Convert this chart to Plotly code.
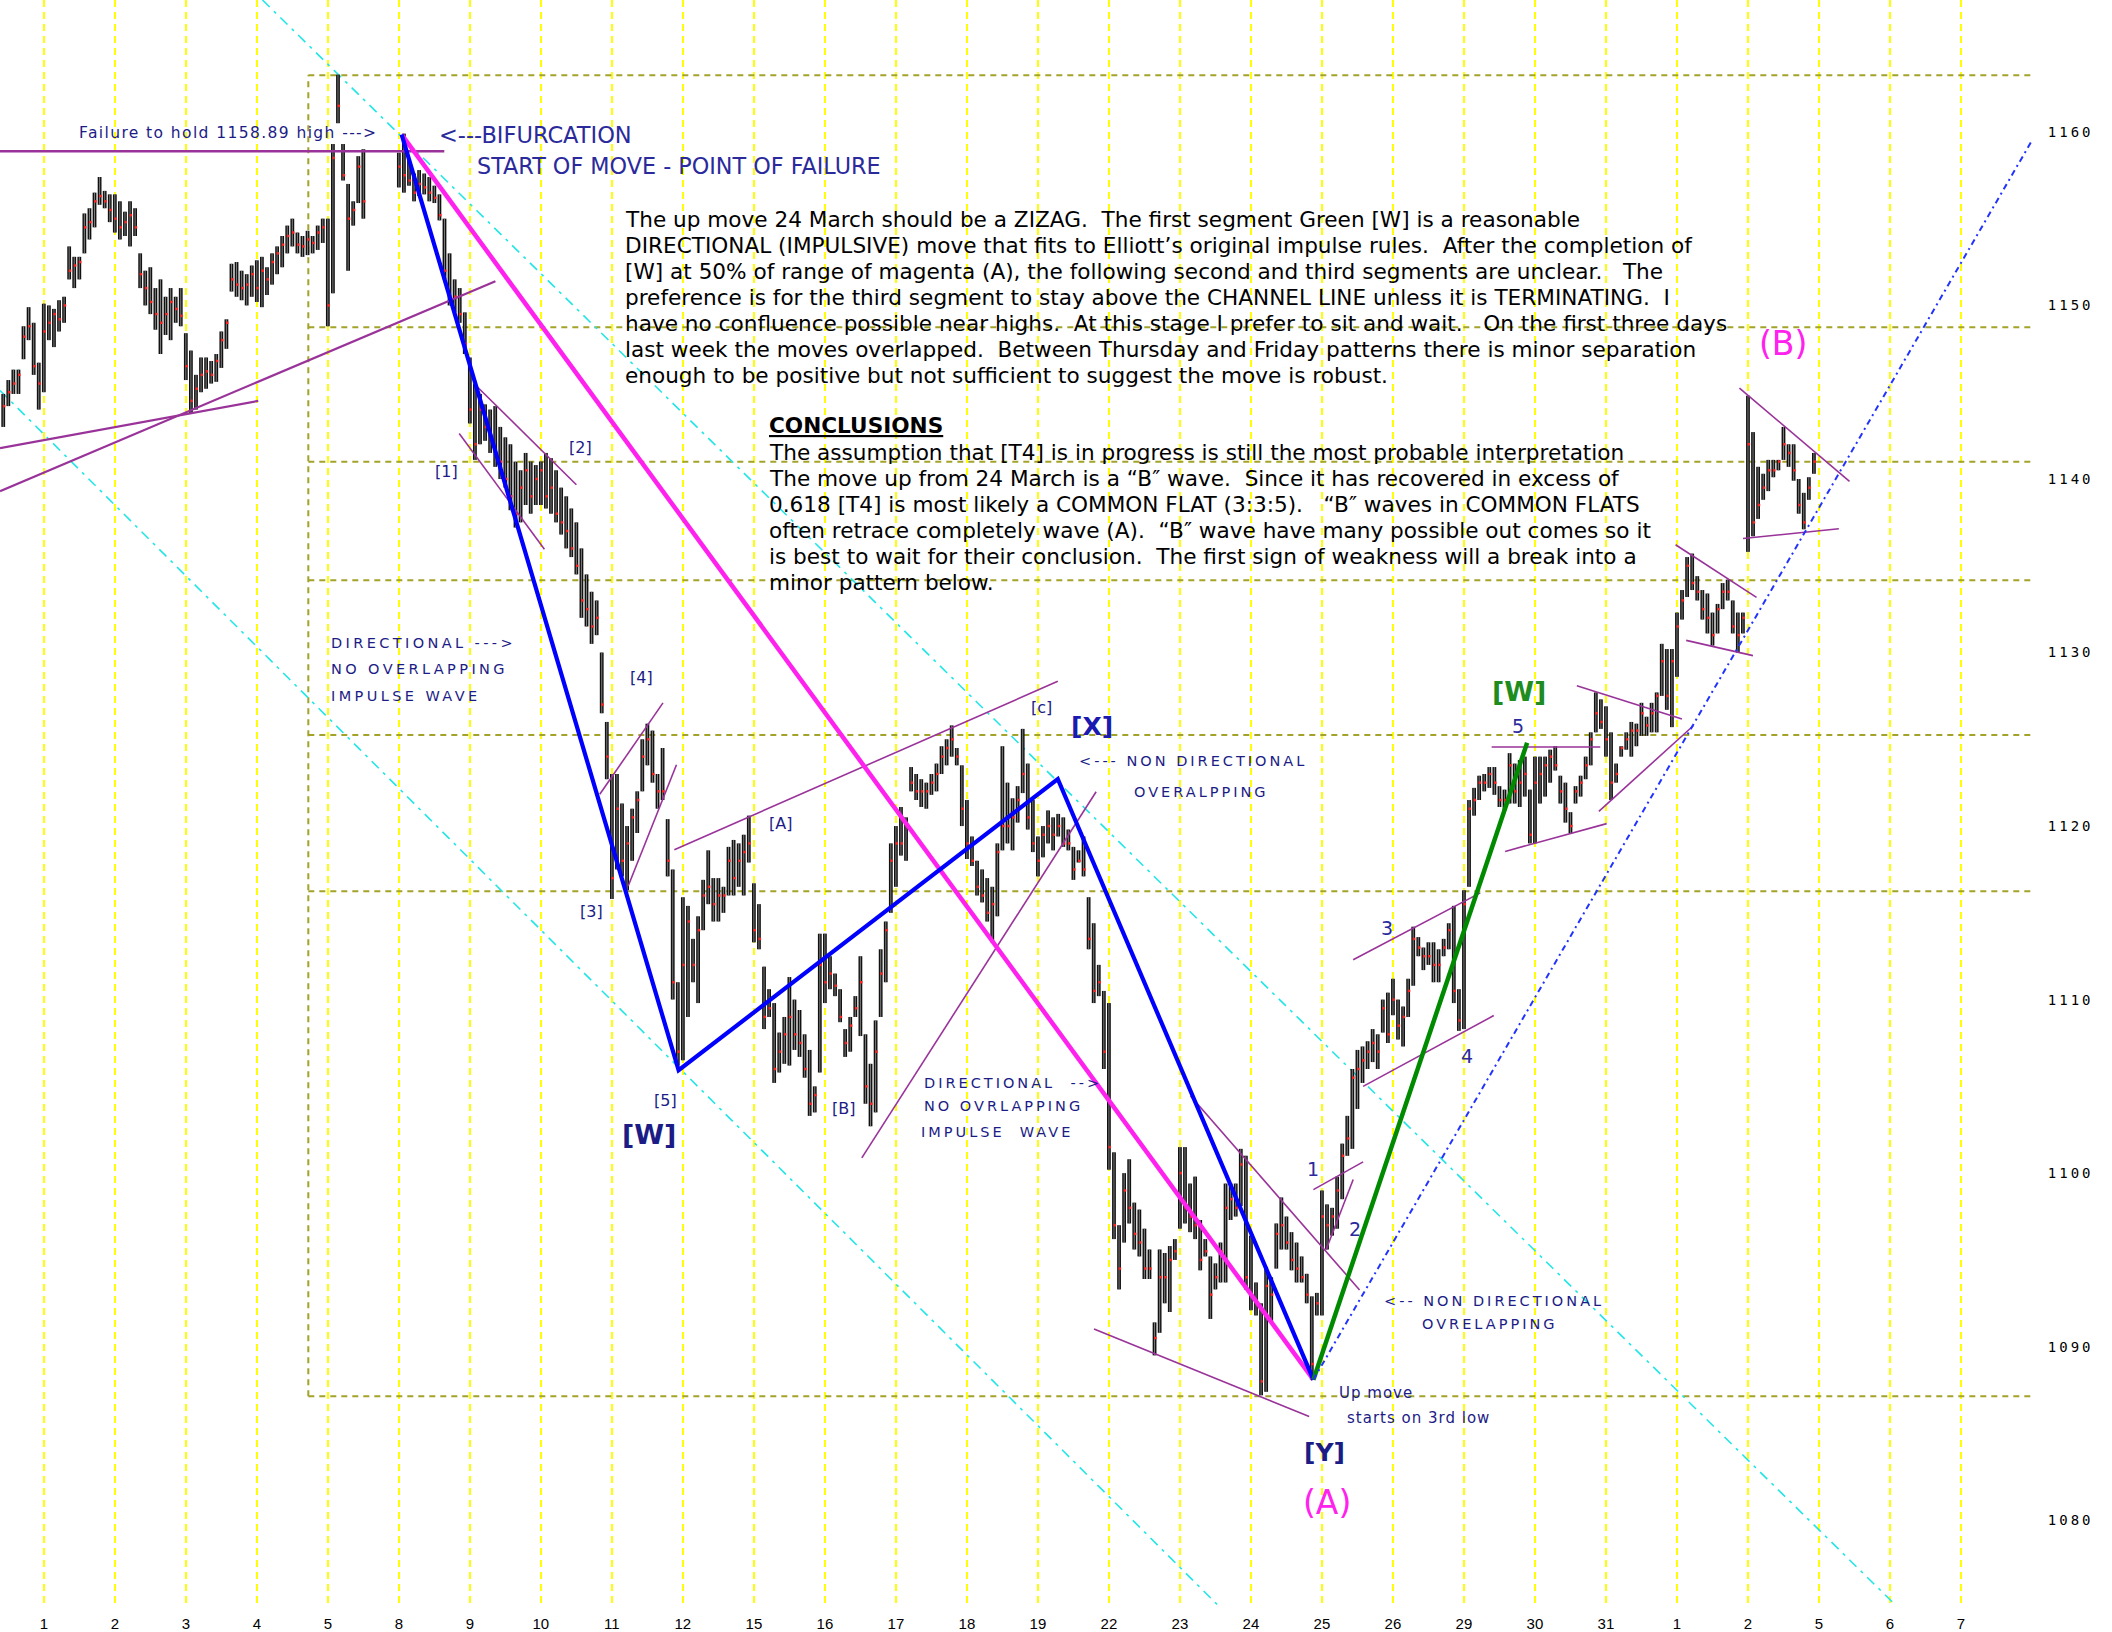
import plotly.graph_objects as go

# ---------------- data ----------------
day_labels = ["1", "2", "3", "4", "5", "8", "9", "10", "11", "12", "15", "16", "17", "18", "19",
              "22", "23", "24", "25", "26", "29", "30", "31", "1", "2", "5", "6", "7"]
price_ticks = [1080, 1090, 1100, 1110, 1120, 1130, 1140, 1150, 1160]
bars_per_day = 14
lead_bars = 8  # bars of the previous session visible at the left edge

highs_by_day = [
    [1144.9, 1145.7, 1146.3, 1146.3, 1148.8, 1149.9, 1149.0, 1146.7],
    [1150.1, 1150.0, 1149.8, 1150.3, 1150.5, 1153.4, 1152.8, 1152.8, 1155.3, 1155.6, 1156.5, 1157.4, 1156.6, 1156.4],
    [1156.4, 1156.0, 1155.4, 1156.0, 1155.6, 1153.0, 1152.0, 1152.2, 1151.0, 1151.5, 1150.5, 1151.0, 1150.5, 1151.0],
    [1148.4, 1147.4, 1146.0, 1147.0, 1147.0, 1146.8, 1147.2, 1148.5, 1149.2, 1152.4, 1152.5, 1152.0, 1151.8, 1152.3],
    [1152.6, 1152.8, 1152.2, 1153.0, 1153.4, 1154.0, 1154.6, 1155.0, 1154.2, 1154.0, 1154.3, 1154.0, 1154.6, 1155.0],
    [1155.0, 1159.3, 1163.3, 1159.3, 1157.0, 1156.0, 1158.6, 1159.0, None, None, None, None, None, None],
    [1158.8, 1159.9, 1158.4, 1157.6, 1157.8, 1157.6, 1157.4, 1156.9, 1156.4, 1155.0, 1153.0, 1151.5, 1151.0, 1149.6],
    [1147.0, 1145.5, 1144.9, 1144.3, 1144.0, 1144.2, 1143.0, 1142.4, 1142.0, 1141.0, 1140.5, 1141.5, 1141.0, 1140.8],
    [1141.0, 1141.5, 1141.2, 1140.5, 1139.5, 1139.0, 1138.3, 1137.5, 1136.0, 1134.5, 1133.5, 1133.0, 1130.0, 1126.0],
    [1123.0, 1123.0, 1121.3, 1120.0, 1121.0, 1122.0, 1125.0, 1125.9, 1125.5, 1123.0, 1124.5, 1120.4, 1117.5, 1111.0],
    [1115.9, 1115.4, 1113.5, 1114.8, 1116.9, 1118.6, 1117.0, 1117.0, 1116.5, 1118.8, 1119.2, 1119.0, 1119.5, 1120.6],
    [1116.7, 1115.5, 1111.9, 1110.6, 1109.8, 1108.1, 1109.0, 1111.3, 1110.0, 1109.4, 1108.0, 1107.1, 1105.0, 1113.8],
    [1113.8, 1112.5, 1111.5, 1110.6, 1108.3, 1109.0, 1110.2, 1112.5, 1108.0, 1106.3, 1108.8, 1112.9, 1114.5, 1119.0],
    [1120.0, 1121.1, 1120.5, 1123.4, 1123.0, 1122.7, 1122.5, 1123.0, 1123.6, 1124.6, 1125.0, 1125.8, 1124.5, 1123.5],
    [1121.5, 1119.4, 1118.0, 1117.5, 1117.0, 1116.5, 1119.0, 1124.6, 1122.5, 1121.6, 1122.3, 1125.6, 1123.6, 1121.5],
    [1119.4, 1120.0, 1120.9, 1120.5, 1120.7, 1120.5, 1119.8, 1118.8, 1118.6, 1119.4, 1115.9, 1114.4, 1112.0, 1110.5],
    [1109.8, 1101.2, 1097.0, 1100.0, 1100.8, 1098.3, 1097.9, 1096.8, 1095.6, 1091.4, 1095.6, 1095.4, 1095.8, 1096.2],
    [1101.5, 1101.5, 1099.4, 1099.8, 1097.3, 1096.2, 1095.2, 1094.8, 1096.0, 1099.4, 1099.4, 1099.4, 1101.4, 1101.0],
    [1096.4, 1093.7, 1092.5, 1094.6, 1094.0, 1097.1, 1098.6, 1097.5, 1096.6, 1096.0, 1095.2, 1094.2, 1092.9, 1093.1],
    [1099.0, 1098.2, 1098.0, 1099.8, 1101.7, 1103.3, 1106.0, 1107.1, 1107.3, 1107.6, 1108.3, 1108.0, 1110.0, 1110.4],
    [1111.2, 1110.0, 1109.6, 1111.2, 1114.2, 1113.6, 1113.0, 1113.3, 1113.3, 1112.9, 1113.5, 1114.4, 1115.4, 1110.6],
    [1116.3, 1121.5, 1122.2, 1122.9, 1123.0, 1123.4, 1123.4, 1122.3, 1122.1, 1124.2, 1123.6, 1123.8, 1124.0, 1122.1],
    [1124.0, 1124.0, 1124.0, 1124.4, 1124.6, 1122.9, 1122.5, 1120.8, 1122.3, 1122.9, 1124.0, 1125.4, 1127.7, 1127.3],
    [1126.9, 1125.4, 1123.6, 1124.6, 1125.4, 1126.0, 1125.9, 1127.1, 1126.3, 1127.1, 1127.7, 1130.5, 1130.2, 1130.2],
    [1132.3, 1133.6, 1135.5, 1135.7, 1134.4, 1133.6, 1133.4, 1132.3, 1132.8, 1134.0, 1134.2, 1133.0, 1132.3, 1132.3],
    [1144.8, 1142.7, 1140.7, 1140.3, 1141.1, 1141.1, 1141.1, 1143.0, 1142.0, 1142.0, 1140.0, 1139.2, 1140.1, 1141.5],
]
lows_by_day = [
    [1143.0, 1144.2, 1144.9, 1144.9, 1146.9, 1148.0, 1146.0, 1144.0],
    [1145.0, 1148.0, 1147.6, 1148.5, 1149.0, 1151.5, 1151.0, 1151.5, 1153.0, 1153.8, 1154.5, 1155.8, 1155.6, 1154.8],
    [1154.2, 1153.8, 1154.0, 1153.4, 1154.0, 1151.0, 1150.0, 1149.5, 1148.6, 1147.2, 1148.3, 1148.0, 1149.0, 1148.8],
    [1145.7, 1143.8, 1144.0, 1145.0, 1145.2, 1145.5, 1145.6, 1146.4, 1147.5, 1150.8, 1150.5, 1150.3, 1150.0, 1150.5],
    [1150.2, 1149.9, 1150.6, 1151.2, 1151.8, 1152.2, 1153.0, 1153.4, 1153.0, 1152.8, 1152.9, 1153.0, 1153.2, 1153.6],
    [1148.8, 1150.7, 1160.5, 1157.2, 1152.0, 1154.6, 1155.9, 1155.0, None, None, None, None, None, None],
    [1156.8, 1156.5, 1156.9, 1156.0, 1156.3, 1156.4, 1156.0, 1155.9, 1154.9, 1151.5, 1150.0, 1149.6, 1149.0, 1147.2],
    [1143.2, 1141.1, 1142.0, 1142.2, 1141.5, 1140.7, 1140.0, 1139.5, 1138.2, 1137.2, 1137.5, 1138.5, 1138.0, 1138.5],
    [1138.5, 1138.3, 1138.0, 1137.5, 1136.8, 1136.0, 1135.5, 1134.5, 1132.0, 1131.5, 1130.5, 1131.0, 1126.5, 1122.7],
    [1115.8, 1117.5, 1117.1, 1116.3, 1118.0, 1119.6, 1122.0, 1123.5, 1122.5, 1121.0, 1121.5, 1117.1, 1110.0, 1106.2],
    [1106.5, 1109.0, 1111.0, 1109.8, 1114.0, 1115.5, 1114.5, 1114.5, 1115.0, 1116.0, 1116.0, 1116.5, 1116.0, 1117.9],
    [1113.3, 1112.9, 1108.3, 1109.0, 1105.2, 1105.8, 1106.3, 1106.2, 1107.1, 1106.7, 1105.5, 1103.3, 1103.5, 1105.8],
    [1109.8, 1110.6, 1110.2, 1108.7, 1106.7, 1107.0, 1109.0, 1107.9, 1104.0, 1102.7, 1103.5, 1109.0, 1111.0, 1115.0],
    [1116.5, 1118.3, 1118.0, 1122.0, 1121.5, 1121.1, 1121.0, 1121.8, 1122.0, 1123.0, 1123.5, 1124.0, 1123.5, 1120.0],
    [1118.1, 1117.7, 1116.0, 1115.6, 1114.5, 1113.3, 1114.8, 1118.6, 1119.0, 1118.6, 1120.2, 1121.9, 1119.8, 1118.5],
    [1117.1, 1118.2, 1119.0, 1118.6, 1119.4, 1118.8, 1118.6, 1116.9, 1117.9, 1117.1, 1112.9, 1109.8, 1110.2, 1106.0],
    [1100.2, 1096.2, 1093.3, 1096.0, 1097.1, 1095.6, 1095.2, 1093.9, 1093.9, 1089.5, 1090.8, 1092.5, 1092.0, 1095.0],
    [1096.8, 1097.1, 1096.6, 1096.2, 1094.4, 1095.2, 1091.6, 1093.3, 1093.7, 1093.7, 1097.3, 1097.5, 1098.1, 1093.3],
    [1092.1, 1091.8, 1087.2, 1087.4, 1091.4, 1094.5, 1095.6, 1095.6, 1094.4, 1093.7, 1093.7, 1092.5, 1088.1, 1091.8],
    [1091.8, 1095.6, 1096.4, 1096.8, 1098.5, 1101.0, 1101.4, 1103.7, 1105.2, 1106.0, 1106.4, 1106.0, 1108.1, 1107.5],
    [1109.1, 1107.7, 1107.3, 1109.0, 1110.8, 1112.5, 1111.7, 1112.0, 1111.0, 1111.0, 1112.5, 1112.9, 1109.8, 1108.2],
    [1108.3, 1116.5, 1120.6, 1121.5, 1122.0, 1122.2, 1121.8, 1121.1, 1120.9, 1121.3, 1121.3, 1121.1, 1121.7, 1119.0],
    [1119.0, 1121.3, 1121.7, 1122.5, 1123.2, 1121.3, 1120.2, 1119.6, 1121.3, 1121.7, 1122.7, 1123.5, 1125.4, 1125.6],
    [1124.0, 1121.5, 1122.5, 1124.0, 1124.4, 1124.0, 1124.6, 1125.2, 1125.2, 1125.4, 1125.4, 1127.5, 1126.7, 1125.7],
    [1128.6, 1131.9, 1133.2, 1133.6, 1133.0, 1131.9, 1131.1, 1130.4, 1131.1, 1132.5, 1133.0, 1131.1, 1130.0, 1131.1],
    [1135.8, 1136.7, 1137.7, 1138.8, 1139.3, 1140.1, 1140.5, 1141.1, 1140.7, 1139.9, 1138.0, 1137.1, 1138.8, 1140.3],
]
closes_by_day = [
    [1144.2, 1145.0, 1145.5, 1146.0, 1148.2, 1148.8, 1146.5, 1145.5],
    [1148.5, 1149.0, 1149.5, 1149.2, 1150.0, 1152.0, 1152.3, 1152.5, 1154.5, 1154.8, 1156.0, 1156.3, 1156.0, 1155.5],
    [1155.0, 1154.5, 1154.8, 1155.2, 1154.5, 1151.8, 1151.0, 1150.2, 1149.5, 1149.0, 1149.5, 1150.2, 1149.8, 1149.4],
    [1146.5, 1144.5, 1145.2, 1146.0, 1146.2, 1146.0, 1146.8, 1148.0, 1149.0, 1151.5, 1151.2, 1151.0, 1151.2, 1151.8],
    [1151.0, 1152.0, 1151.5, 1152.5, 1153.0, 1153.5, 1154.0, 1154.2, 1153.5, 1153.4, 1153.8, 1153.6, 1154.2, 1154.5],
    [1150.0, 1158.5, 1161.5, 1157.5, 1155.0, 1155.5, 1158.0, 1156.0, None, None, None, None, None, None],
    [1158.0, 1157.5, 1157.2, 1156.5, 1157.0, 1156.8, 1156.5, 1156.2, 1155.2, 1152.0, 1150.5, 1150.5, 1149.5, 1147.8],
    [1144.0, 1142.0, 1144.0, 1143.0, 1142.5, 1141.5, 1141.0, 1140.0, 1139.0, 1138.0, 1139.5, 1140.5, 1139.0, 1140.0],
    [1140.5, 1139.0, 1139.5, 1138.0, 1137.5, 1137.0, 1136.0, 1135.0, 1133.0, 1132.5, 1131.5, 1132.0, 1127.0, 1124.0],
    [1117.0, 1121.0, 1118.0, 1119.0, 1120.5, 1121.5, 1124.0, 1125.0, 1123.0, 1122.0, 1122.0, 1118.0, 1111.0, 1107.0],
    [1112.0, 1114.5, 1112.0, 1114.0, 1116.0, 1116.5, 1115.5, 1116.0, 1116.0, 1118.0, 1117.0, 1118.0, 1118.5, 1119.0],
    [1114.0, 1113.5, 1109.0, 1109.5, 1106.0, 1107.0, 1108.0, 1109.0, 1108.0, 1107.5, 1106.0, 1104.0, 1104.5, 1112.0],
    [1111.0, 1111.5, 1110.8, 1109.0, 1107.5, 1108.5, 1109.5, 1111.0, 1105.0, 1104.0, 1107.0, 1111.5, 1114.0, 1118.0],
    [1119.0, 1119.0, 1120.0, 1122.5, 1122.0, 1122.0, 1122.0, 1122.5, 1123.0, 1124.0, 1124.5, 1125.0, 1124.0, 1121.0],
    [1119.0, 1118.0, 1116.5, 1116.0, 1115.0, 1115.5, 1118.5, 1120.0, 1120.0, 1120.5, 1121.5, 1123.0, 1120.5, 1119.0],
    [1118.0, 1119.5, 1120.0, 1119.5, 1120.0, 1119.0, 1119.0, 1117.5, 1118.0, 1117.5, 1113.5, 1110.5, 1111.0, 1107.0],
    [1101.5, 1097.0, 1094.5, 1099.0, 1098.0, 1096.5, 1096.0, 1094.5, 1094.5, 1090.5, 1094.0, 1094.0, 1095.0, 1095.5],
    [1100.0, 1098.0, 1097.5, 1097.0, 1095.0, 1095.5, 1093.0, 1094.0, 1095.5, 1098.0, 1098.5, 1098.0, 1100.5, 1094.0],
    [1093.0, 1092.5, 1088.0, 1093.5, 1093.0, 1096.5, 1097.0, 1096.0, 1095.0, 1094.5, 1094.0, 1093.0, 1089.0, 1092.5],
    [1097.5, 1097.0, 1097.5, 1099.0, 1101.0, 1102.0, 1105.5, 1106.0, 1106.5, 1107.0, 1107.5, 1107.0, 1109.5, 1108.0],
    [1110.0, 1108.5, 1109.0, 1110.5, 1113.5, 1113.0, 1112.5, 1112.5, 1112.0, 1112.0, 1113.0, 1114.0, 1110.5, 1108.8],
    [1115.5, 1121.0, 1121.5, 1122.5, 1122.5, 1123.0, 1122.5, 1121.5, 1121.5, 1123.5, 1122.0, 1122.5, 1123.0, 1119.5],
    [1122.5, 1123.0, 1123.5, 1124.0, 1123.5, 1122.0, 1121.0, 1120.0, 1122.0, 1122.5, 1123.5, 1125.0, 1126.5, 1126.0],
    [1125.0, 1122.5, 1123.0, 1124.5, 1125.0, 1125.5, 1125.5, 1126.5, 1125.8, 1126.5, 1127.5, 1129.5, 1127.5, 1129.5],
    [1131.5, 1133.0, 1135.0, 1134.0, 1133.5, 1132.5, 1132.0, 1131.0, 1132.5, 1133.5, 1133.5, 1131.5, 1131.0, 1132.0],
    [1142.0, 1137.5, 1138.5, 1139.5, 1140.5, 1140.5, 1141.0, 1142.0, 1141.5, 1140.5, 1138.5, 1137.5, 1139.5, 1141.0],
]

# retracement levels (price) and the day where they start
fib_levels = [1163.26, 1148.75, 1140.99, 1134.16, 1125.24, 1116.24, 1087.14]
fib_start_day = 3.725

# wave paths (day index, price)
blue_wave_days = [5.04, 8.94, 14.28, 17.88]
blue_wave_prices = [1159.84, 1105.93, 1122.71, 1088.10]
magenta_days = [5.04, 17.88]
magenta_prices = [1159.84, 1088.10]
green_days = [17.88, 20.89]
green_prices = [1088.10, 1124.80]
trend_days = [17.88, 28.07]
trend_prices = [1088.10, 1160.00]
cyan_upper_days = [3.08, 26.08]
cyan_upper_prices = [1167.6, 1075.1]
cyan_lower_days = [-0.617, 16.56]
cyan_lower_prices = [1145.1, 1075.0]
failure_days = [-0.617, 5.64]
failure_prices = [1158.89, 1158.89]

# purple trend lines: (day0, price0, day1, price1)
heavy_purple = [
    (-0.617, 1139.30, 6.36, 1151.40),
    (-0.617, 1141.78, 3.02, 1144.50),
]
thin_purple = [
    (6.06, 1145.49, 7.50, 1139.67), (5.85, 1142.62, 7.05, 1135.95),
    (7.83, 1121.83, 8.72, 1127.10), (8.23, 1116.55, 8.91, 1123.53),
    (8.88, 1118.64, 14.28, 1128.34), (11.52, 1100.88, 14.82, 1121.98),
    (16.15, 1104.44, 18.53, 1093.27), (14.79, 1091.02, 17.82, 1085.98),
    (17.88, 1099.05, 18.58, 1100.65), (18.06, 1095.60, 18.44, 1099.63),
    (18.44, 1112.30, 20.23, 1116.15), (18.58, 1105.00, 20.42, 1109.08),
    (20.39, 1124.56, 21.92, 1124.56), (20.58, 1118.54, 22.01, 1120.14),
    (21.59, 1128.09, 23.07, 1126.17), (21.90, 1120.85, 23.23, 1125.78),
    (22.98, 1136.21, 24.12, 1133.18), (23.13, 1130.70, 24.07, 1129.82),
    (23.88, 1145.24, 25.43, 1139.86), (23.93, 1136.57, 25.28, 1137.13),
]

para1 = [
    "The up move 24 March should be a ZIZAG.  The first segment Green [W] is a reasonable",
    "DIRECTIONAL (IMPULSIVE) move that fits to Elliott’s original impulse rules.  After the completion of",
    "[W] at 50% of range of magenta (A), the following second and third segments are unclear.   The",
    "preference is for the third segment to stay above the CHANNEL LINE unless it is TERMINATING.  I",
    "have no confluence possible near highs.  At this stage I prefer to sit and wait.   On the first three days",
    "last week the moves overlapped.  Between Thursday and Friday patterns there is minor separation",
    "enough to be positive but not sufficient to suggest the move is robust.",
]
para2 = [
    "The assumption that [T4] is in progress is still the most probable interpretation",
    "The move up from 24 March is a “B″ wave.  Since it has recovered in excess of",
    "0.618 [T4] is most likely a COMMON FLAT (3:3:5).   “B″ waves in COMMON FLATS",
    "often retrace completely wave (A).  “B″ wave have many possible out comes so it",
    "is best to wait for their conclusion.  The first sign of weakness will a break into a",
    "minor pattern below.",
]

# ---------------- figure ----------------
W, H = 2112, 1632
PW, PH = 2032, 1607
x_range = [-0.617, 28.0]
y_range = [1075.0, 1167.6]

highs = [v for d in highs_by_day for v in d]
lows = [v for d in lows_by_day for v in d]
closes = [v for d in closes_by_day for v in d]

bx, by, cx, cy = [], [], [], []
for j, (h, l, c) in enumerate(zip(highs, lows, closes)):
    if h is None:
        continue
    x = (j - lead_bars) / bars_per_day
    bx += [x, x, None]
    by += [l, h, None]
    cx.append(x + 0.012)
    cy.append(c)

fig = go.Figure()


def line_trace(xs, ys, color, width, dash="solid"):
    fig.add_trace(go.Scatter(x=xs, y=ys, mode="lines", line=dict(color=color, width=width, dash=dash),
                             hoverinfo="skip", showlegend=False, cliponaxis=True))


line_trace(cyan_upper_days, cyan_upper_prices, "#22e6e6", 1.6, "10px,6px,3px,6px")
line_trace(cyan_lower_days, cyan_lower_prices, "#22e6e6", 1.6, "10px,6px,3px,6px")

fig.add_trace(go.Scatter(x=bx, y=by, mode="lines", line=dict(color="#111111", width=3.8),
                         hoverinfo="skip", showlegend=False))
fig.add_trace(go.Scatter(x=bx, y=by, mode="lines", line=dict(color="#8a8a8a", width=0.9),
                         hoverinfo="skip", showlegend=False))
fig.add_trace(go.Scatter(x=cx, y=cy, mode="markers", marker=dict(color="#ff2020", size=2.5, symbol="square"),
                         hoverinfo="skip", showlegend=False))

line_trace(failure_days, failure_prices, "#993399", 2.5)
for d0, p0, d1, p1 in heavy_purple:
    line_trace([d0, d1], [p0, p1], "#993399", 2.2)
for d0, p0, d1, p1 in thin_purple:
    line_trace([d0, d1], [p0, p1], "#993399", 1.6)

line_trace(magenta_days, magenta_prices, "#ff22ee", 4.5)
line_trace(blue_wave_days, blue_wave_prices, "#0000ff", 4.2)
line_trace(green_days, green_prices, "#008a00", 4.5)
line_trace(trend_days, trend_prices, "#2233ff", 2.0, "6px,4px,2px,4px")

shapes = []
for lvl in fib_levels:
    shapes.append(dict(type="line", xref="x", yref="y", x0=fib_start_day, x1=x_range[1], y0=lvl, y1=lvl,
                       line=dict(color="#a3a32a", width=2, dash="6px,5px"), layer="between"))
shapes.append(dict(type="line", xref="x", yref="y", x0=fib_start_day, x1=fib_start_day,
                   y0=min(fib_levels), y1=max(fib_levels),
                   line=dict(color="#a3a32a", width=2, dash="6px,5px"), layer="between"))


def px(xf, yf):
    return xf / PW, 1 - yf / PH


NAVY = "#1c1c86"
SP = "DejaVu Sans"
annotations = []


def txt(text, xf, yf, size, color=NAVY, family=SP, anchor="left", ls=None):
    x, y = px(xf, yf)
    if ls is not None:
        text = "<span style='letter-spacing:%spx'>%s</span>" % (ls, text)
    annotations.append(dict(text=text, x=x, y=y, xref="paper", yref="paper", xanchor=anchor, yanchor="middle",
                            align="left" if anchor == "left" else "center", borderpad=0,
                            showarrow=False, font=dict(size=size, color=color, family=family)))


def nb(s):
    return s.replace("  ", " \u00a0")


PF = "DejaVu Sans"
for i, line in enumerate(para1):
    txt(nb(line), 623.6, 219.6 + 26.0 * i, 21.6, "#000000", PF)
txt("<b><u>CONCLUSIONS</u></b>", 767.8, 425.6, 21.6, "#000000", PF)
for i, line in enumerate(para2):
    txt(nb(line), 767.8, 452.6 + 25.9 * i, 21.6, "#000000", PF)

txt("Failure to hold 1158.89 high --->", 78, 133, 15.5, NAVY, SP, ls=1.4)
txt("&lt;---BIFURCATION", 438, 135, 22.5, "#2a2a9c")
txt("START OF MOVE - POINT OF FAILURE", 475.5, 165.7, 22.3, "#2a2a9c")
txt("DIRECTIONAL ---&gt;", 330, 642.5, 14.5, NAVY, ls=3.4)
txt("NO OVERLAPPING", 330, 669.5, 14.5, NAVY, ls=3.4)
txt("IMPULSE WAVE", 330, 696.4, 14.5, NAVY, ls=3.4)
txt("&lt;--- NON DIRECTIONAL", 1077.6, 761, 14.5, NAVY, ls=3)
txt("OVERALPPING", 1133, 792, 14.5, NAVY, ls=3)
txt("DIRECTIONAL&nbsp; --&gt;", 922.7, 1083, 14.5, NAVY, ls=3)
txt("NO OVRLAPPING", 922.7, 1106, 14.5, NAVY, ls=3)
txt("IMPULSE&nbsp; WAVE", 920, 1131.5, 14.5, NAVY, ls=3)
txt("&lt;-- NON DIRECTIONAL", 1383, 1301, 14.5, NAVY, ls=3)
txt("OVRELAPPING", 1421, 1324, 14.5, NAVY, ls=3)
txt("Up move", 1337.6, 1393, 15, NAVY, ls=1)
txt("starts on 3rd low", 1345.6, 1418, 15, NAVY, ls=1)

for s, xf, yf in [("[1]", 446, 471), ("[2]", 580.5, 447), ("[3]", 591, 912), ("[4]", 641, 677.5),
                  ("[5]", 665.4, 1100.5), ("[A]", 780, 824), ("[B]", 843, 1108.6), ("[c]", 1041, 707)]:
    txt(s, xf, yf, 16, NAVY, anchor="center")
for s, xf, yf in [("1", 1313, 1169), ("2", 1355, 1228.5), ("3", 1387, 928), ("4", 1467, 1056), ("5", 1518, 726)]:
    txt(s, xf, yf, 19, "#2a2a9c", anchor="center")

txt("<b>[W]</b>", 649, 1134, 27, NAVY, anchor="center")
txt("<b>[X]</b>", 1092, 727, 25, "#1a1ab0", anchor="center")
txt("<b>[W]</b>", 1519, 691, 27, "#1e8c1e", anchor="center")
txt("<b>[Y]</b>", 1324, 1452, 25, NAVY, anchor="center")
txt("(A)", 1327, 1502, 33, "#ff22ee", anchor="center")
txt("(B)", 1783, 343.5, 33, "#ff22ee", anchor="center")

fig.update_layout(
    width=W, height=H,
    margin=dict(l=0, r=W - PW, t=0, b=H - PH),
    paper_bgcolor="white", plot_bgcolor="white",
    showlegend=False,
    shapes=shapes,
    annotations=annotations,
    xaxis=dict(range=x_range, tickmode="array", tickvals=list(range(len(day_labels))), ticktext=day_labels,
               showgrid=True, gridcolor="#ffff00", gridwidth=2, griddash="7px,5px", zeroline=False,
               showline=False, ticks="outside", ticklen=3, tickcolor="rgba(0,0,0,0)",
               tickfont=dict(family="Liberation Sans", size=15, color="#000000"), fixedrange=True),
    yaxis=dict(range=y_range, side="right", tickmode="array", tickvals=price_ticks,
               ticktext=["<span style='letter-spacing:3px'>%d</span>" % v for v in price_ticks],
               showgrid=False, zeroline=False, showline=False,
               ticks="outside", ticklen=12, tickcolor="rgba(0,0,0,0)",
               tickfont=dict(family="DejaVu Sans Mono", size=14, color="#000000"), fixedrange=True),
)

fig.write_html("out.html", config={"displayModeBar": False},
               post_script="document.body.style.margin='0px';document.body.style.overflow='hidden';")
